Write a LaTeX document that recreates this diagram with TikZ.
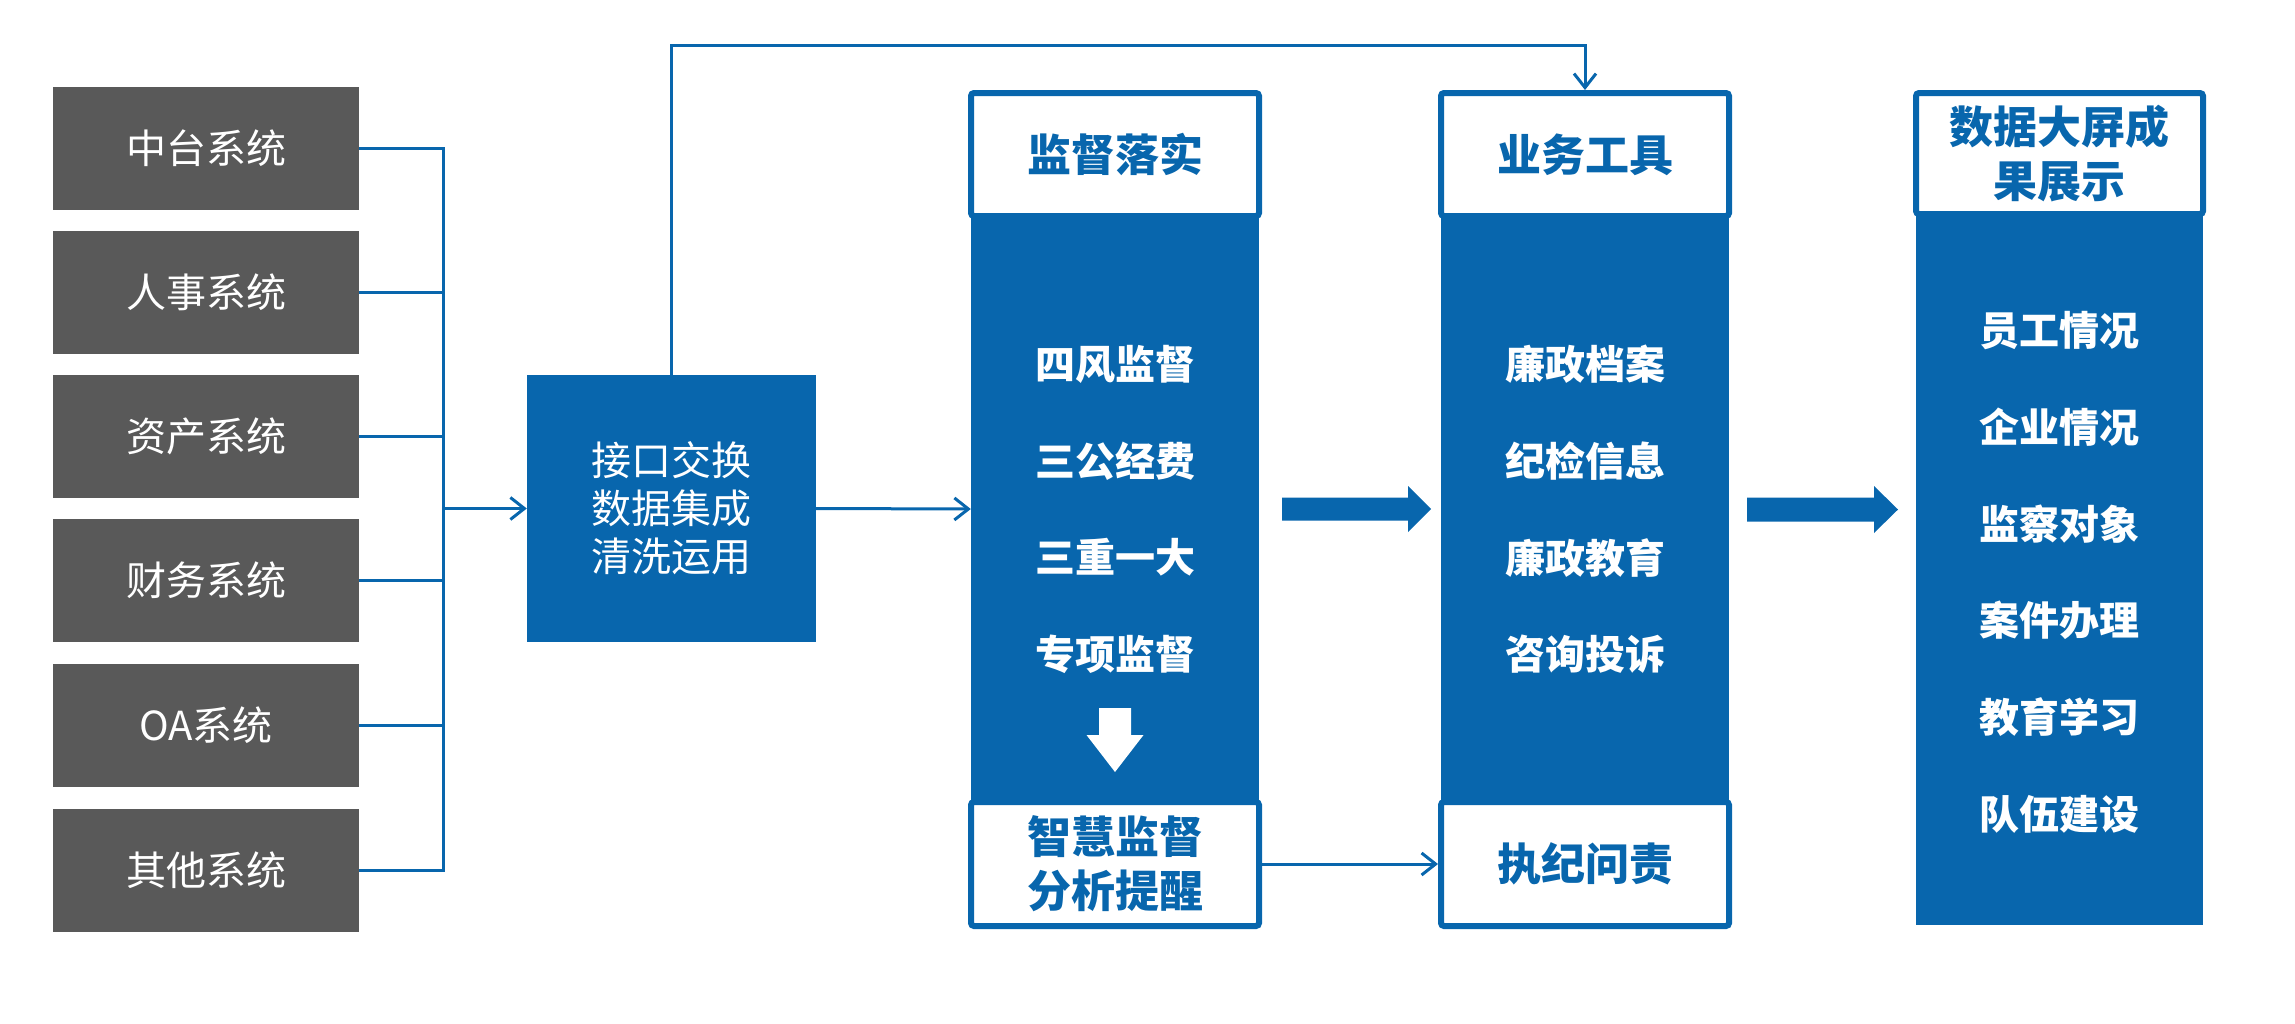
\documentclass[tikz,border=0pt]{standalone}
\usepackage{fontspec}
\newfontfamily\cjk{Noto Sans CJK SC}
\usetikzlibrary{arrows.meta}
\definecolor{mblue}{RGB}{8,102,173}
\definecolor{mgray}{RGB}{89,89,89}
\begin{document}
\begin{tikzpicture}[x=1pt,y=-1pt,
  sysbox/.style={fill=mgray, text=white, minimum width=306pt, minimum height=123pt, inner sep=0pt, font=\cjk\fontsize{40}{48}\selectfont},
  hubbox/.style={fill=mblue, text=white, minimum width=289pt, minimum height=267pt, inner sep=0pt, align=center, font=\cjk\fontsize{40}{48}\selectfont},
  body/.style={fill=mblue, inner sep=0pt, minimum width=288pt},
  headbox/.style={draw=mblue, fill=white, line width=6pt, rounded corners=3pt, minimum width=288pt, inner sep=0pt, text=mblue, align=center, font=\cjk\bfseries\fontsize{44}{54}\selectfont},
  item/.style={text=white, inner sep=0pt, font=\cjk\bfseries\fontsize{40}{48}\selectfont},
  link/.style={draw=mblue, line width=3pt},
  tip/.style={-{Straight Barb[length=14pt,width=22pt]}},
  fat/.style={fill=mblue},
]
\useasboundingbox (0,0) rectangle (2295,1023);

% source systems
\node[sysbox] (g1) at (206,148.5) {中台系统};
\node[sysbox] (g2) at (206,292.5) {人事系统};
\node[sysbox] (g3) at (206,436.5) {资产系统};
\node[sysbox] (g4) at (206,580.5) {财务系统};
\node[sysbox] (g5) at (206,725) {OA系统};
\node[sysbox] (g6) at (206,870) {其他系统};

% hub
\node[hubbox] (hub) at (671.5,508.5) {接口交换\\数据集成\\清洗运用};

% column A
\node[body, minimum height=586pt] (Abody) at (1115,509) {};
\node[headbox, minimum height=123pt] (Ahead) at (1115,154.5) {监督落实};
\node[headbox, minimum height=124pt] (Afoot) at (1115,864) {智慧监督\\分析提醒};
\node[item] (a1) at (1115,364.5) {四风监督};
\node[item] (a2) at (1115,461) {三公经费};
\node[item] (a3) at (1115,557.6) {三重一大};
\node[item] (a4) at (1115,654) {专项监督};
\fill[white] (1099,708) -- (1131,708) -- (1131,735) -- (1143.5,735) -- (1115,772) -- (1086.5,735) -- (1099,735) -- cycle;

% column B
\node[body, minimum height=586pt] (Bbody) at (1585,509) {};
\node[headbox, minimum height=123pt] (Bhead) at (1585,154.5) {业务工具};
\node[headbox, minimum height=124pt] (Bfoot) at (1585,864) {执纪问责};
\node[item] (b1) at (1585,364.5) {廉政档案};
\node[item] (b2) at (1585,461) {纪检信息};
\node[item] (b3) at (1585,557.6) {廉政教育};
\node[item] (b4) at (1585,654) {咨询投诉};

% column C
\node[body, minimum width=287pt, minimum height=711pt] (Cbody) at (2059.5,569.5) {};
\node[headbox, minimum width=287pt, minimum height=121pt] (Chead) at (2059.5,153.5) {数据大屏成\\果展示};
\node[item] (c1) at (2059.5,331) {员工情况};
\node[item] (c2) at (2059.5,427) {企业情况};
\node[item] (c3) at (2059.5,524) {监察对象};
\node[item] (c4) at (2059.5,620) {案件办理};
\node[item] (c5) at (2059.5,717) {教育学习};
\node[item] (c6) at (2059.5,814) {队伍建设};

% thick arrows
\fill[fat] (1282,497.5) -- (1408,497.5) -- (1408,486) -- (1431,509) -- (1408,532) -- (1408,520.5) -- (1282,520.5) -- cycle;
\fill[fat] (1747,497.5) -- (1874,497.5) -- (1874,486) -- (1898,509.5) -- (1874,533) -- (1874,521.5) -- (1747,521.5) -- cycle;

% bracket connectors
\coordinate (bus) at (443,508.5);
\foreach \g in {g1,g2,g3,g4,g5,g6}{
  \draw[link] (\g.east) -| (bus);
}
\draw[link,tip] (bus) -- (hub.west);
\draw[link,tip] (hub.east) -- (Abody.west);
\draw[link,tip] (hub.north) -- ++(0,-329) -| (Bhead.north);
\draw[link,tip] (Afoot.east) -- (Bfoot.west);
\end{tikzpicture}
\end{document}
